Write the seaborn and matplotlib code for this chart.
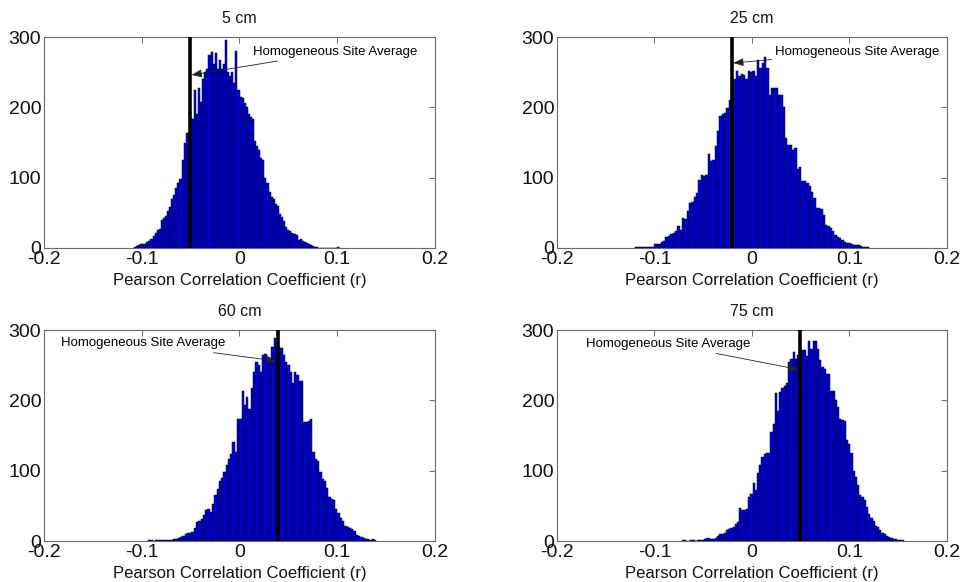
import numpy as np
import pandas as pd
import matplotlib
matplotlib.use("Agg")
import matplotlib.pyplot as plt
import seaborn as sns

# Bootstrap distributions of Pearson r at four sensor depths (100-bin histograms)
depths = ["5 cm", "25 cm", "60 cm", "75 cm"]

# bin range (min, max) of each histogram
range_5 = (-0.108, 0.104)
range_25 = (-0.120, 0.1205)
range_60 = (-0.0935, 0.140)
range_75 = (-0.0723, 0.1555)

counts_5 = [2, 3, 4, 5, 5, 6, 8, 10, 13, 17, 22, 25, 27, 40, 43, 45, 52, 58, 70, 76,
            85, 93, 98, 125, 150, 163, 165, 185, 183, 225, 190, 227, 208, 240, 250, 255, 275, 278, 262, 277,
            255, 268, 255, 262, 296, 250, 245, 250, 235, 280, 225, 215, 213, 206, 200, 190, 186, 183, 152, 145,
            140, 128, 125, 100, 92, 80, 72, 70, 62, 60, 48, 44, 38, 30, 26, 24, 22, 20, 18, 12,
            13, 10, 8, 7, 5, 4, 3, 2, 1, 0, 0, 0, 0, 0, 0, 0, 0, 0, 2, 0]

counts_25 = [2, 1, 1, 2, 1, 1, 2, 2, 5, 5, 6, 8, 10, 16, 17, 20, 22, 24, 31, 26,
             43, 41, 52, 64, 66, 72, 78, 96, 104, 103, 104, 134, 123, 125, 145, 166, 187, 190, 192, 199,
             211, 238, 240, 251, 244, 247, 246, 240, 252, 250, 252, 244, 268, 256, 263, 271, 256, 217, 227, 227,
             227, 217, 217, 200, 156, 146, 146, 140, 142, 113, 115, 95, 95, 92, 88, 80, 71, 57, 57, 55,
             47, 33, 31, 28, 24, 19, 16, 14, 12, 8, 7, 7, 6, 4, 4, 4, 3, 2, 1, 1]

counts_60 = [1, 1, 0, 1, 1, 2, 2, 2, 1, 1, 2, 3, 3, 4, 6, 7, 10, 12, 12, 13,
             18, 27, 28, 32, 37, 44, 45, 41, 53, 65, 74, 86, 89, 98, 108, 117, 124, 141, 126, 174,
             174, 214, 193, 205, 188, 218, 241, 254, 250, 241, 264, 266, 258, 254, 276, 289, 278, 276, 274, 264,
             254, 250, 241, 225, 240, 236, 228, 228, 169, 169, 170, 174, 126, 116, 114, 98, 88, 86, 76, 62,
             60, 59, 45, 40, 33, 29, 22, 20, 18, 17, 14, 8, 7, 6, 5, 3, 3, 2, 3, 2]

counts_75 = [2, 1, 0, 0, 1, 1, 0, 1, 1, 2, 3, 5, 4, 3, 3, 4, 7, 10, 10, 11,
             16, 17, 18, 20, 24, 27, 47, 44, 44, 46, 63, 67, 82, 72, 97, 108, 120, 124, 125, 125,
             155, 167, 210, 185, 212, 217, 221, 224, 255, 259, 269, 259, 264, 262, 271, 271, 263, 285, 273, 285,
             285, 273, 257, 247, 245, 238, 238, 214, 214, 200, 190, 174, 172, 171, 143, 138, 125, 100, 91, 80,
             65, 62, 58, 48, 38, 33, 28, 22, 20, 16, 12, 10, 7, 6, 4, 3, 3, 2, 2, 1]

# homogeneous site average r for each depth
site_average = [-0.0509, -0.0209, 0.0396, 0.0493]

# annotation text anchor (x, y) and arrow tip (x, y) in data units
label_xy = [(0.0137, 279), (0.0236, 279), (-0.0139, 281), (-0.0013, 280)]
arrow_xy = [(-0.049, 246), (-0.0192, 263), (0.0379, 256), (0.0475, 244)]
label_ha = ["left", "left", "right", "right"]

x_ticks = [-0.2, -0.1, 0, 0.1, 0.2]
y_ticks = [0, 100, 200, 300]

ranges = [range_5, range_25, range_60, range_75]
counts = [counts_5, counts_25, counts_60, counts_75]

sns.set_theme(style="white")
plt.rcParams["font.family"] = ["Liberation Sans", "DejaVu Sans"]

fig = plt.figure(figsize=(9.62, 5.82), dpi=100)
positions = [
    [0.0457, 0.5739, 0.4064, 0.3625],
    [0.5790, 0.5739, 0.4054, 0.3625],
    [0.0457, 0.0704, 0.4064, 0.3625],
    [0.5790, 0.0704, 0.4054, 0.3625],
]

frame_color = "#6a6a6a"

for k in range(4):
    ax = fig.add_axes(positions[k])
    lo, hi = ranges[k]
    n = len(counts[k])
    width = (hi - lo) / n
    centers = lo + width * (np.arange(n) + 0.5)
    df = pd.DataFrame({"r": centers, "n": counts[k]})
    sns.histplot(data=df, x="r", weights="n", bins=n, binrange=(lo, hi), ax=ax,
                 color="#0000e8", edgecolor="#000020", linewidth=0.35, alpha=1.0)
    ax.axvline(site_average[k], color="black", lw=2.6, zorder=5)

    ax.annotate("Homogeneous Site Average", xy=arrow_xy[k], xytext=label_xy[k],
                ha=label_ha[k], va="center", fontsize=9.5, color="black",
                arrowprops=dict(arrowstyle="-|>,head_length=0.65,head_width=0.25",
                                color="#222222", lw=0.6, shrinkA=0, shrinkB=0),
                zorder=6)

    ax.set_xlim(-0.2, 0.2)
    ax.set_ylim(0, 300)
    ax.set_xticks(x_ticks)
    ax.set_xticklabels(["-0.2", "-0.1", "0", "0.1", "0.2"])
    ax.set_yticks(y_ticks)
    ax.set_yticklabels([str(v) for v in y_ticks])
    ax.tick_params(axis="both", direction="in", top=True, right=True, length=4,
                   width=0.7, color=frame_color, labelsize=14, labelcolor="#111111")
    ax.tick_params(axis="x", pad=2)
    ax.tick_params(axis="y", pad=2)
    for s in ax.spines.values():
        s.set_visible(True)
        s.set_color(frame_color)
        s.set_linewidth(0.8)
    ax.set_xlabel("Pearson Correlation Coefficient (r)", fontsize=12, labelpad=4,
                  color="#111111")
    ax.set_ylabel("")
    ax.set_title(depths[k], fontsize=11.5, pad=10, color="#111111")
    ax.grid(False)

fig.savefig("out.png", dpi=100, facecolor="white")
